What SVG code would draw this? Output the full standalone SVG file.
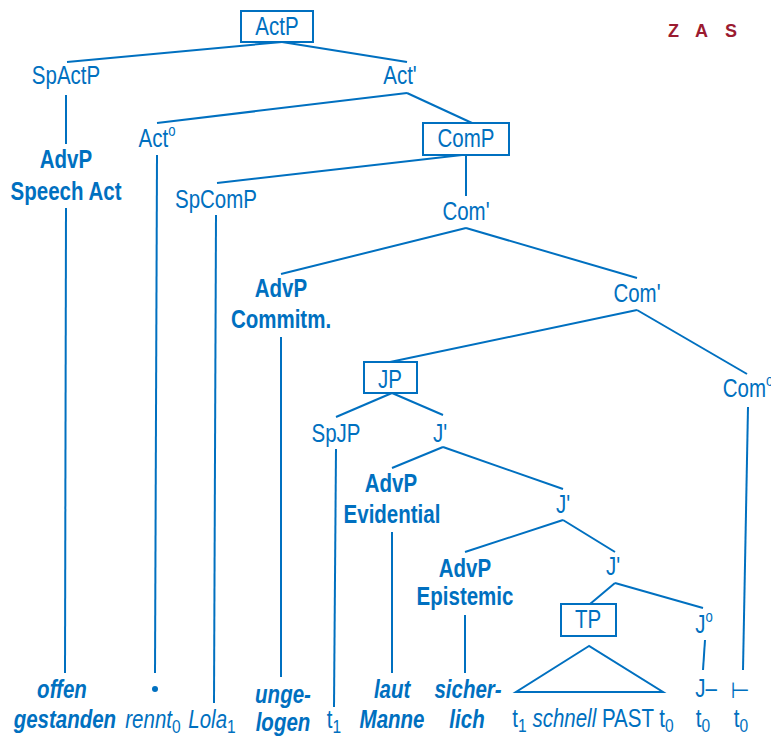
<svg xmlns="http://www.w3.org/2000/svg" width="771" height="736" viewBox="0 0 771 736">
<style>
text{font-family:"Liberation Sans",Arial,sans-serif;fill:#0070c0;font-size:25px;text-anchor:middle;transform:scaleX(0.82);transform-box:fill-box;transform-origin:center}
.b{font-weight:bold}
.bi{font-weight:bold;font-style:italic}
.i{font-style:italic}
.sup{font-size:16px}
.sub{font-size:19px;font-style:normal}
.box{fill:none;stroke:#0070c0;stroke-width:2}
#connectors line,#connectors polygon{stroke:#0070c0;stroke-width:2;fill:none}
.zas{fill:#9b1b30;font-weight:bold;font-size:18px;text-anchor:start;transform:none}
.tack{font-family:"DejaVu Sans",sans-serif;font-size:22px;transform:none}
</style>
<rect width="771" height="736" fill="#fff"/>
<g id="connectors">
<line x1="282" y1="42" x2="67" y2="62"/>
<line x1="282" y1="42" x2="407" y2="62"/>
<line x1="66" y1="95" x2="66" y2="144"/>
<line x1="407" y1="93" x2="157" y2="123"/>
<line x1="407" y1="93" x2="472" y2="123"/>
<line x1="157" y1="155" x2="155" y2="673"/>
<line x1="66" y1="208" x2="65" y2="673"/>
<line x1="462" y1="155" x2="217" y2="183"/>
<line x1="466" y1="155" x2="466" y2="196"/>
<line x1="216" y1="215" x2="214" y2="703"/>
<line x1="466" y1="228" x2="281" y2="274"/>
<line x1="466" y1="228" x2="637" y2="278"/>
<line x1="281" y1="337" x2="281" y2="677"/>
<line x1="637" y1="310" x2="390" y2="362"/>
<line x1="637" y1="310" x2="747" y2="374"/>
<line x1="748" y1="407" x2="743" y2="670"/>
<line x1="392" y1="393" x2="336" y2="417"/>
<line x1="392" y1="393" x2="443" y2="415"/>
<line x1="336" y1="449" x2="334" y2="707"/>
<line x1="443" y1="447" x2="392" y2="468"/>
<line x1="443" y1="447" x2="563" y2="489"/>
<line x1="392" y1="532" x2="392" y2="673"/>
<line x1="563" y1="520" x2="465" y2="552"/>
<line x1="563" y1="520" x2="615" y2="552"/>
<line x1="465" y1="615" x2="465" y2="673"/>
<line x1="615" y1="583" x2="590" y2="604"/>
<line x1="615" y1="583" x2="703" y2="608"/>
<line x1="705" y1="640" x2="703" y2="670"/>
<polygon points="589,646 516,692 663,692"/>
</g>
<g id="logo"><text class="zas" x="668 695 725" y="37">ZAS</text></g>
<g id="ActP"><rect class="box" x="241" y="11" width="72" height="31"/><text x="277" y="35">ActP</text></g>
<g id="SpActP"><text x="66" y="84">SpActP</text></g>
<g id="ActBar"><text x="400" y="84">Act'</text></g>
<g id="Act0"><text x="157" y="147">Act<tspan class="sup" dy="-11">o</tspan></text></g>
<g id="AdvP-SpeechAct"><text class="b" x="66" y="168">AdvP</text><text class="b" x="66" y="200">Speech Act</text></g>
<g id="ComP"><rect class="box" x="423" y="123" width="86" height="32"/><text x="466" y="147">ComP</text></g>
<g id="SpComP"><text x="216" y="208">SpComP</text></g>
<g id="ComBar1"><text x="466" y="220">Com'</text></g>
<g id="AdvP-Commitm"><text class="b" x="281" y="297">AdvP</text><text class="b" x="281" y="328">Commitm.</text></g>
<g id="ComBar2"><text x="637" y="302">Com'</text></g>
<g id="JP"><rect class="box" x="364" y="362" width="53" height="31"/><text x="390" y="388">JP</text></g>
<g id="Com0"><text x="748" y="397">Com<tspan class="sup" dy="-11">o</tspan></text></g>
<g id="SpJP"><text x="336" y="442">SpJP</text></g>
<g id="JBar1"><text x="440" y="442">J'</text></g>
<g id="AdvP-Evidential"><text class="b" x="391" y="492">AdvP</text><text class="b" x="392" y="523">Evidential</text></g>
<g id="JBar2"><text x="563" y="513">J'</text></g>
<g id="AdvP-Epistemic"><text class="b" x="465" y="577">AdvP</text><text class="b" x="465" y="605">Epistemic</text></g>
<g id="JBar3"><text x="613" y="575">J'</text></g>
<g id="TP"><rect class="box" x="561" y="604" width="55" height="32"/><text x="588" y="628">TP</text></g>
<g id="J0"><text x="704" y="633">J<tspan class="sup" dy="-11">o</tspan></text></g>
<g id="leaf-offen"><text class="bi" x="62" y="698">offen</text><text class="bi" x="65" y="728">gestanden</text></g>
<g id="leaf-dot"><circle cx="155" cy="689" r="3" fill="#0070c0"/></g>
<g id="leaf-rennt"><text class="i" x="153" y="728">rennt<tspan class="sub" dy="5">0</tspan></text></g>
<g id="leaf-Lola"><text class="i" x="212" y="728">Lola<tspan class="sub" dy="5">1</tspan></text></g>
<g id="leaf-ungelogen"><text class="bi" x="283" y="703">unge-</text><text class="bi" x="283" y="731">logen</text></g>
<g id="leaf-t1"><text x="334" y="728">t<tspan class="sub" dy="5">1</tspan></text></g>
<g id="leaf-laut"><text class="bi" x="392" y="698">laut</text><text class="bi" x="392" y="728">Manne</text></g>
<g id="leaf-sicherlich"><text class="bi" x="468" y="698">sicher-</text><text class="bi" x="467" y="728">lich</text></g>
<g id="leaf-TP"><text x="593" y="727">t<tspan class="sub" dy="5">1</tspan><tspan dy="-5"> </tspan><tspan class="i">schnell</tspan> PAST t<tspan class="sub" dy="5">0</tspan></text></g>
<g id="leaf-J"><text x="706" y="697">J–</text><text x="703" y="727">t<tspan class="sub" dy="5">0</tspan></text></g>
<g id="leaf-Com"><text class="tack" x="740" y="698">⊢</text><text x="741" y="727">t<tspan class="sub" dy="5">0</tspan></text></g>
</svg>
